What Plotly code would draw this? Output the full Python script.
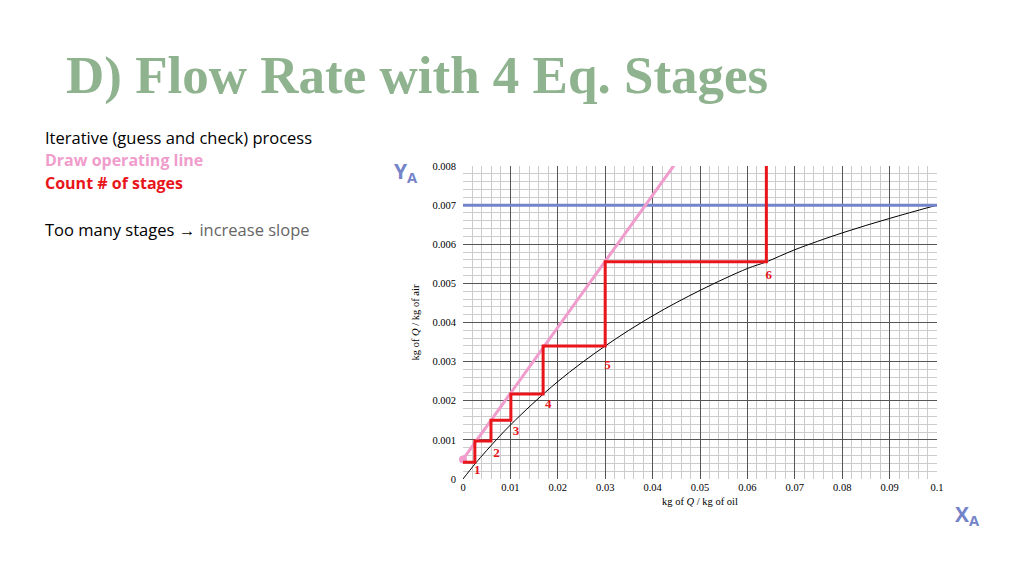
import plotly.graph_objects as go

eq_x = [0, 0.0025, 0.005, 0.01, 0.02, 0.03, 0.04, 0.05, 0.06, 0.064, 0.07, 0.08, 0.09, 0.1]
eq_y = [0, 0.00038, 0.00073, 0.00138, 0.00249, 0.0034, 0.00417, 0.00482, 0.00538, 0.00555, 0.00586, 0.00629, 0.00666, 0.007]
op_x = [0, 0.0462]
op_y = [0.0005, 0.0083]
stage_x = [0.0025, 0.0059, 0.0101, 0.0169, 0.030, 0.064]
stage_y = [0.00043, 0.00097, 0.0015, 0.00217, 0.0034, 0.00555]
stage_labels = ["1", "2", "3", "4", "5", "6"]
label_pos = [(0.0023, 0.0002), (0.0064, 0.00065), (0.0105, 0.0012), (0.0173, 0.0019), (0.0298, 0.0029), (0.0638, 0.0052)]
feed_y = 0.007
top_y = 0.0083

sx, sy = [0], [stage_y[0]]
for i, (x, y) in enumerate(zip(stage_x, stage_y)):
    sx.append(x); sy.append(y)
    ny = stage_y[i + 1] if i + 1 < len(stage_y) else top_y
    sx.append(x); sy.append(ny)

fig = go.Figure()
fig.add_trace(go.Scatter(x=eq_x, y=eq_y, mode="lines", line=dict(color="black", width=1, shape="spline"), hoverinfo="skip"))
fig.add_trace(go.Scatter(x=[0, 0.1005], y=[feed_y, feed_y], mode="lines", line=dict(color="#7484c8", width=3), cliponaxis=False))
fig.add_trace(go.Scatter(x=op_x, y=op_y, mode="lines", line=dict(color="#f09ccc", width=3), cliponaxis=False))
fig.add_trace(go.Scatter(x=[0], y=[op_y[0]], mode="markers", marker=dict(color="#f09ccc", size=8), cliponaxis=False))
fig.add_trace(go.Scatter(x=sx, y=sy, mode="lines", line=dict(color="#e8151b", width=3), cliponaxis=False))
fig.add_trace(go.Scatter(x=[p[0] for p in label_pos], y=[p[1] for p in label_pos], mode="text",
                         text=["<b>%s</b>" % s for s in stage_labels],
                         textposition="middle right", textfont=dict(family="Liberation Serif", size=13, color="#e8151b"), cliponaxis=False))

serif = dict(family="Liberation Serif", size=10.5, color="black")
L, R, T, B = 455, 95, 158, 105
fig.update_layout(
    width=1024, height=576, showlegend=False, plot_bgcolor="white", paper_bgcolor="white",
    margin=dict(l=L, r=R, t=T, b=B),
    xaxis=dict(range=[0, 0.1], dtick=0.01, tickformat="~g", showgrid=True, gridcolor="#555", gridwidth=1,
               minor=dict(dtick=0.002, showgrid=True, gridcolor="#ccc"), zeroline=False, tickfont=serif,
               title=dict(text="kg of <i>Q</i> / kg of oil", font=serif, standoff=6), showline=False, ticks=""),
    yaxis=dict(range=[0, 0.008], dtick=0.001, tickformat="~g", showgrid=True, gridcolor="#555", gridwidth=1,
               minor=dict(dtick=0.0002, showgrid=True, gridcolor="#ccc"), zeroline=False, tickfont=serif,
               title=dict(text="kg of <i>Q</i> / kg of air", font=serif, standoff=10), ticks="", ticklabelstandoff=6),
)
ann = [
    dict(x=56, y=67, text="<b>D) Flow Rate with 4 Eq. Stages</b>", font=dict(family="Liberation Serif", size=53, color="#8fb38f")),
    dict(x=35, y=129, text="Iterative (guess and check) process", font=dict(family="Open Sans", size=16.5, color="black")),
    dict(x=35, y=152, text="<b>Draw operating line</b>", font=dict(family="Open Sans", size=16, color="#f09ccc")),
    dict(x=35, y=175, text="<b>Count # of stages</b>", font=dict(family="Open Sans", size=16, color="#e8151b")),
    dict(x=35, y=221, text="Too many stages → <span style='color:#666'>increase slope</span>", font=dict(family="Open Sans", size=16.5, color="black")),
    dict(x=384, y=164, text="<b>Y<sub>A</sub></b>", font=dict(family="Open Sans", size=21, color="#7484c8")),
    dict(x=945, y=507, text="<b>X<sub>A</sub></b>", font=dict(family="Open Sans", size=21, color="#7484c8")),
]
fixed = []
for a in ann:
    px = (a["x"] - L) / (1024 - L - R)
    py = (576 - B - a["y"]) / (576 - T - B)
    fixed.append(dict(xref="paper", yref="paper", x=px, y=py, text=a["text"], font=a["font"],
                      showarrow=False, xanchor="left", yanchor="middle"))
fig.layout.annotations = fixed
fig.write_html("out.html")
